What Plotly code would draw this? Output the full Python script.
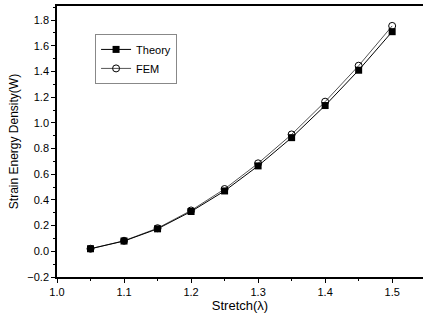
import plotly.graph_objects as go

stretch = [1.05, 1.10, 1.15, 1.20, 1.25, 1.30, 1.35, 1.40, 1.45, 1.50]
theory = [0.02, 0.08, 0.175, 0.31, 0.47, 0.665, 0.885, 1.135, 1.41, 1.71]
fem = [0.02, 0.082, 0.18, 0.318, 0.485, 0.685, 0.91, 1.165, 1.445, 1.755]

font = "Liberation Sans, Arial, sans-serif"

fig = go.Figure()
fig.add_trace(go.Scatter(
    x=stretch, y=fem, name="FEM", mode="lines+markers",
    line=dict(color="#555555", width=1),
    marker=dict(symbol="circle-open", size=7, color="black", line=dict(width=1)),
))
fig.add_trace(go.Scatter(
    x=stretch, y=theory, name="Theory", mode="lines+markers",
    line=dict(color="black", width=1),
    marker=dict(symbol="square", size=7, color="black"),
))

axis_common = dict(
    showline=True, linecolor="black", linewidth=1.5, mirror=True,
    ticks="outside", ticklen=4, tickcolor="black", tickwidth=1,
    showgrid=False, zeroline=False, automargin=False,
    tickfont=dict(family=font, size=11, color="black"),
)

fig.update_xaxes(
    range=[1.0, 1.546], dtick=0.1, tick0=1.0, tickformat=".1f",
    minor=dict(dtick=0.05, ticks="outside", ticklen=2, tickcolor="black"),
    title=dict(text="Stretch(λ)", font=dict(family=font, size=13, color="black"), standoff=4),
    **axis_common,
)
fig.update_yaxes(
    range=[-0.2, 1.91], dtick=0.2, tick0=0, tickformat=".1f",
    minor=dict(dtick=0.1, ticks="outside", ticklen=2, tickcolor="black"),
    title=dict(text="Strain Energy Density(W)", font=dict(family=font, size=12, color="black"), standoff=6),
    **axis_common,
)

fig.update_layout(
    width=423, height=324,
    margin=dict(l=57, r=0, t=6, b=47),
    paper_bgcolor="white", plot_bgcolor="white",
    showlegend=True,
    legend=dict(
        x=0.104, y=0.897, xanchor="left", yanchor="top",
        traceorder="reversed",
        bgcolor="white", bordercolor="#888888", borderwidth=1,
        font=dict(family=font, size=11, color="black"),
        itemwidth=30,
        tracegroupgap=0,
    ),
)

fig.write_html("out.html", config={"displayModeBar": False},
               post_script="document.body.style.margin='0';")
